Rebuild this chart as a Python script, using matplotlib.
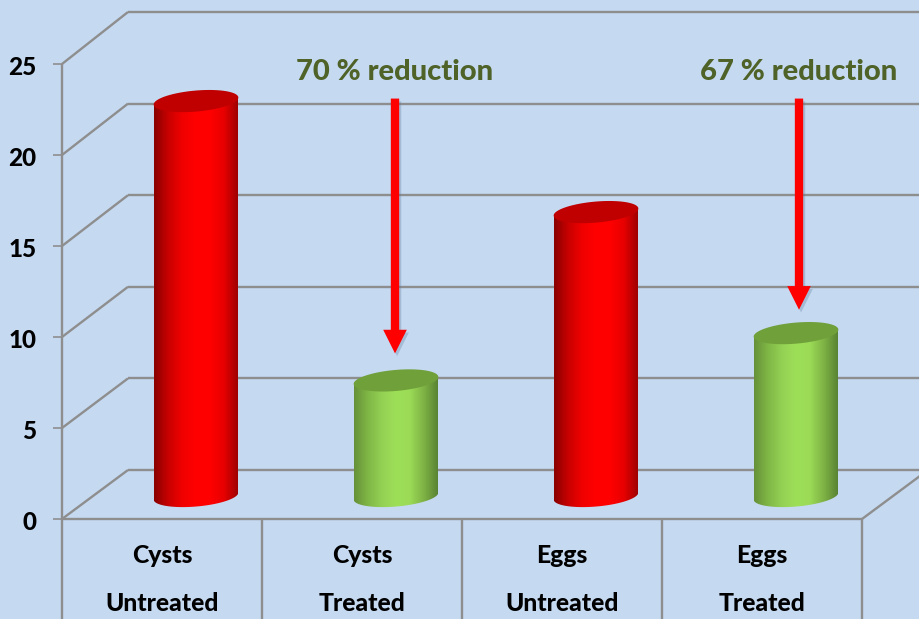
import matplotlib
matplotlib.use('Agg')
import matplotlib.pyplot as plt
import matplotlib.patheffects as pe
import numpy as np
from matplotlib.colors import LinearSegmentedColormap
from matplotlib.patches import Polygon
from matplotlib.transforms import ScaledTranslation

plt.rcParams['font.family'] = ['Lato', 'DejaVu Sans']

categories = ['Cysts\nUntreated', 'Cysts\nTreated', 'Eggs\nUntreated', 'Eggs\nTreated']
values = [21.7, 6.35, 15.6, 8.95]
y_ticks = [0, 5, 10, 15, 20, 25]
arrow_labels = ['70 % reduction', '67 % reduction']
arrow_x = [1.165, 3.185]
arrow_top = [23.1, 23.1]
arrow_tip = [9.1, 11.5]

BG = '#C5D9F1'
GRID = '#8E8E8E'
RED_SIDE = ['#8A0000', '#C80000', '#F00000', '#FF0000', '#FF0000', '#E80000', '#A00000']
GREEN_SIDE = ['#66913A', '#80B746', '#93D154', '#9EDF58', '#9BDB56', '#7FB345', '#5A8433']
bar_side = [RED_SIDE, GREEN_SIDE, RED_SIDE, GREEN_SIDE]
bar_top = ['#C00000', '#70A03A', '#C00000', '#70A03A']

# sizes of the fake 3d, in axis units (1 category = 200 px, 1 y unit = 18.2 px)
PX_X = 1 / 200
PX_Y = 1 / 18.2
DEPTH_X = 66 * PX_X
FLOOR_DEPTH_Y = 49 * PX_Y
BACK_SCALE = 1.0066
BAR_DX = 34 * PX_X
BAR_DY = 23 * PX_Y
HALF_W = 42 * PX_X
TILT = 5.0


def ellipse_xy(cx, cy, a=42.5, b=10.5):
    t = np.linspace(0, 2 * np.pi, 120)
    r = np.radians(TILT)
    px = a * np.cos(t) * np.cos(r) - b * np.sin(t) * np.sin(r)
    py = a * np.cos(t) * np.sin(r) + b * np.sin(t) * np.cos(r)
    return cx + px * PX_X, cy + py * PX_Y


def draw_cylinder(ax, x, value, side_colors, top_color):
    cx = x + BAR_DX
    base = BAR_DY
    top = base + value
    slope = np.tan(np.radians(TILT)) * PX_Y / PX_X
    ex, ey = ellipse_xy(cx, base)
    lower = ey <= base + (ex - cx) * slope
    order = np.argsort(ex[lower])
    tilt_y = slope * HALF_W
    outline = [(cx - HALF_W, top - tilt_y), (cx + HALF_W, top + tilt_y)]
    outline += [(cx + HALF_W, base + tilt_y)]
    outline += list(zip(ex[lower][order][::-1], ey[lower][order][::-1]))
    outline += [(cx - HALF_W, base - tilt_y)]
    clip = Polygon(outline, closed=True, transform=ax.transData, fill=False, lw=0)
    ax.add_patch(clip)
    cmap = LinearSegmentedColormap.from_list('side', side_colors)
    shade = np.linspace(0, 1, 200).reshape(1, -1)
    im = ax.imshow(shade, cmap=cmap, aspect='auto', zorder=3,
                   extent=(cx - HALF_W, cx + HALF_W, base - 1, top + 1))
    im.set_clip_path(clip)
    tx, ty = ellipse_xy(cx, top)
    ax.fill(tx, ty, color=top_color, lw=0, zorder=4)


fig = plt.figure(figsize=(9.2, 6.19), dpi=100, facecolor=BG)
ax = fig.add_axes([62 / 920, 100 / 619, 800 / 920, 455 / 619], facecolor=BG)

x_pos = np.arange(len(categories))
x_left, x_right = -0.5, len(categories) - 0.5
line_kw = dict(color=GRID, lw=1.7, clip_on=False, solid_capstyle='butt')

# back wall grid and the left side wall
for tick in y_ticks:
    back_y = FLOOR_DEPTH_Y + tick * BACK_SCALE
    ax.plot([x_left, x_left + DEPTH_X], [tick, back_y], zorder=1, **line_kw)
    ax.plot([x_left + DEPTH_X, x_right + 0.3], [back_y, back_y], zorder=1, **line_kw)

# floor and category boxes
ax.plot([x_left, x_right], [0, 0], zorder=2, **line_kw)
ax.plot([x_right, x_right + DEPTH_X], [0, FLOOR_DEPTH_Y], zorder=2, **line_kw)
ax.plot([x_left, x_left], [-5.5, 25], zorder=2, **line_kw)
for i in range(1, len(categories) + 1):
    ax.plot([x_left + i, x_left + i], [-5.5, 0], zorder=2, **line_kw)

for x, value, side, top in zip(x_pos, values, bar_side, bar_top):
    draw_cylinder(ax, x, value, side, top)

for label, ax_x, y0, y1 in zip(arrow_labels, arrow_x, arrow_top, arrow_tip):
    arrow = ax.annotate('', xy=(ax_x, y1), xytext=(ax_x, y0), zorder=6, annotation_clip=False,
                        arrowprops=dict(width=6, headwidth=17, headlength=17, shrink=0,
                                        facecolor='#FF0000', edgecolor='none'))
    arrow.arrow_patch.set_path_effects([
        pe.SimplePatchShadow(offset=(1.5, -2), shadow_rgbFace='#5A7896', alpha=0.3),
        pe.Normal()])
    ax.text(ax_x, 24.55, label, ha='center', va='center', fontsize=21, fontweight='black',
            color='#4F6228', zorder=6)

ax.set_xlim(x_left, x_right)
ax.set_ylim(0, 25)
ax.set_xticks(x_pos)
ax.set_xticklabels(categories, fontsize=17.8, fontweight='black', linespacing=2.3)
ax.set_yticks(y_ticks)
ax.set_yticklabels([str(t) for t in y_ticks], fontsize=17.5, fontweight='black',
                   va='center_baseline')
ax.tick_params(axis='x', length=0, pad=18)
ax.tick_params(axis='y', length=6.5, width=1.2, color=GRID, pad=12)
nudge = ScaledTranslation(0, -1.5 / 100, fig.dpi_scale_trans)
for lb in ax.get_yticklabels():
    lb.set_transform(lb.get_transform() + nudge)
for spine in ax.spines.values():
    spine.set_visible(False)

fig.savefig('out.png', dpi=100, facecolor=BG)
